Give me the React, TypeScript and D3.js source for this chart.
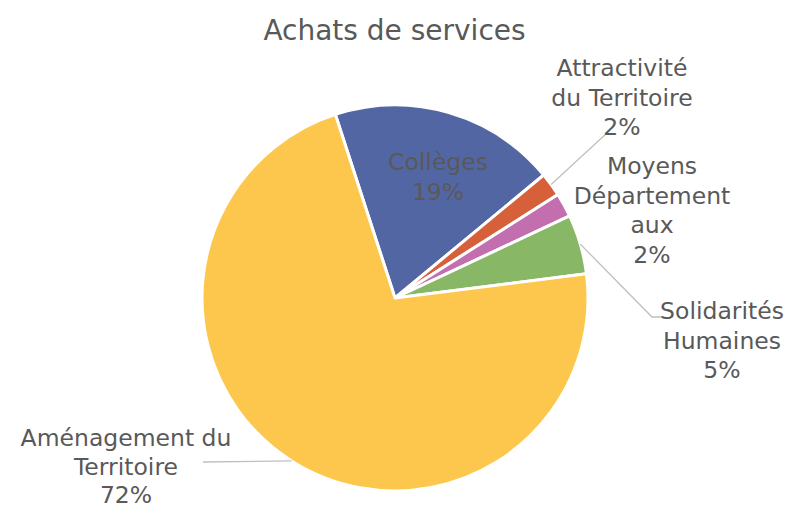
import * as d3 from "d3";

const title = "Achats de services";
const categories = [
  "Collèges",
  "Attractivité du Territoire",
  "Moyens Départementaux",
  "Solidarités Humaines",
  "Aménagement du Territoire",
];
const values = [19, 2, 2, 5, 72];
const colors = ["#5366a4", "#d6603a", "#c36eae", "#88b866", "#fdc74d"];

// wrapped label lines + where they sit (layout only)
const labelLines = [
  ["Collèges", "19%"],
  ["Attractivité", "du Territoire", "2%"],
  ["Moyens", "Département", "aux", "2%"],
  ["Solidarités", "Humaines", "5%"],
  ["Aménagement du", "Territoire", "72%"],
];
const labelPos = [
  [438, 170],
  [622, 76],
  [652, 174],
  [722, 319],
  [126, 446],
];
const lineGap = [29.5, 29.5, 29.5, 29.5, 28.5];
// leader line elbows (null = no leader)
const leaders: ([number, number][] | null)[] = [
  null,
  [[607, 133]],
  null,
  [[652, 317], [664, 317]],
  [[203, 462]],
];

const W = 789,
  H = 510;
const cx = 395,
  cy = 298,
  radius = 193;
const font = "'DejaVu Sans', sans-serif";

export default function App() {
  const pie = d3
    .pie<number>()
    .sort(null)
    .startAngle((-18 * Math.PI) / 180)
    .endAngle(((360 - 18) * Math.PI) / 180);
  const arcs = pie(values);
  const arc = d3.arc<d3.PieArcDatum<number>>().innerRadius(0).outerRadius(radius);
  const edge = d3.arc<d3.PieArcDatum<number>>().innerRadius(radius).outerRadius(radius);

  return (
    <svg
      width={W}
      height={H}
      style={{ position: "absolute", left: 0, top: 0, background: "#fff" }}
    >
      <text
        x={W / 2}
        y={40}
        textAnchor="middle"
        fontFamily={font}
        fontSize={28}
        fill="#595959"
      >
        {title}
      </text>
      <g transform={`translate(${cx},${cy})`}>
        {arcs.map((a, i) => (
          <path
            key={categories[i]}
            d={arc(a) as string}
            fill={colors[i]}
            stroke="#fff"
            strokeWidth={3}
            strokeLinejoin="round"
          />
        ))}
      </g>
      {arcs.map((a, i) => {
        const pts = leaders[i];
        if (!pts) return null;
        const [sx, sy] = edge.centroid(a);
        const all = [[sx + cx, sy + cy], ...pts] as [number, number][];
        return (
          <path
            key={"l" + i}
            d={d3.line()(all) as string}
            fill="none"
            stroke="#bfbfbf"
            strokeWidth={1.3}
          />
        );
      })}
      {labelLines.map((lines, i) => (
        <text
          key={"t" + i}
          x={labelPos[i][0]}
          y={labelPos[i][1]}
          textAnchor="middle"
          fontFamily={font}
          fontSize={23.5}
          fill="#595959"
        >
          {lines.map((l, j) => (
            <tspan key={j} x={labelPos[i][0]} dy={j === 0 ? 0 : lineGap[i]}>
              {l}
            </tspan>
          ))}
        </text>
      ))}
    </svg>
  );
}
